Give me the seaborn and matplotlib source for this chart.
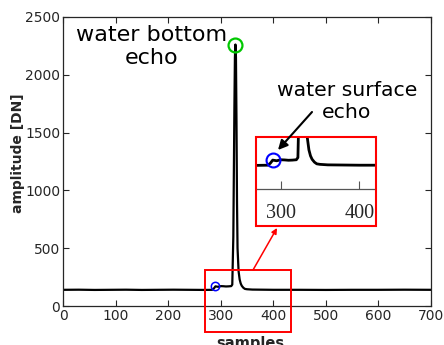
import matplotlib
matplotlib.use("Agg")
import matplotlib.pyplot as plt
import seaborn as sns
import pandas as pd
from matplotlib.patches import Rectangle, FancyArrowPatch

# ---- data ----
samples = [0, 30, 60, 90, 120, 150, 180, 210, 240, 270, 284, 287, 290, 295, 300,
           305, 310, 315, 320, 322, 324, 326, 327, 328, 329, 330, 331, 332, 334,
           336, 338, 340, 343, 346, 350, 360, 380, 400, 450, 500, 550, 600, 650, 700]
amplitude = [140, 141, 139, 140, 141, 139, 140, 141, 140, 139, 140, 152, 170, 166, 172,
             171, 169, 170, 172, 185, 600, 1700, 2150, 2262, 2150, 1600, 900, 500, 300,
             230, 195, 175, 158, 148, 145, 142, 141, 140, 140, 139, 140, 140, 141, 140]
surface_pt = (290, 173)
bottom_pt = (328, 2262)
xticks_main = [0, 100, 200, 300, 400, 500, 600, 700]
yticks_main = [0, 500, 1000, 1500, 2000, 2500]
xticks_inset = [300, 400]

df = pd.DataFrame({"samples": samples, "amplitude": amplitude})

sns.set_theme(style="ticks")
plt.rcParams["font.family"] = ["DejaVu Sans"]

W, H = 444, 345
fig = plt.figure(figsize=(W / 100, H / 100), dpi=100)

def fx(px):
    return px / W

def fy(py):
    return 1 - py / H

# main axes
ax = fig.add_axes([fx(63), fy(306), fx(431) - fx(63), fy(17) - fy(306)])
sns.lineplot(data=df, x="samples", y="amplitude", ax=ax, color="black", lw=1.6)
ax.plot([surface_pt[0]], [surface_pt[1]], "o", mfc="none", mec="blue", ms=6, mew=1.1)
ax.plot([bottom_pt[0]], [bottom_pt[1]], "o", mfc="none", mec="#00c800", ms=10, mew=1.6)
ax.set_xlim(0, 700)
ax.set_ylim(0, 2500)
ax.set_xticks(xticks_main)
ax.set_yticks(yticks_main)
ax.tick_params(direction="in", top=True, right=True, length=4, width=0.8,
               labelsize=10, colors="#262626", pad=2)
for s in ax.spines.values():
    s.set_color("#262626")
    s.set_linewidth(0.9)
ax.set_xlabel("samples", fontsize=10.5, fontweight="bold")
ax.set_ylabel("amplitude [DN]", fontsize=10, fontweight="bold")
ax.xaxis.set_label_coords(0.51, -0.105)
ax.yaxis.set_label_coords(-0.104, 0.53)

# red zoom box on main axes
ax.add_patch(Rectangle((270, -225), 164, 536, fill=False, ec="red", lw=1.4,
                       clip_on=False, zorder=5))

# inset axes
axi = fig.add_axes([fx(257), fy(189), fx(375) - fx(257), fy(138) - fy(189)])
sns.lineplot(data=df, x="samples", y="amplitude", ax=axi, color="black", lw=2.0)
axi.plot([surface_pt[0]], [surface_pt[1]], "o", mfc="none", mec="blue", ms=10, mew=1.5)
axi.set_xlim(270, 420)
axi.set_ylim(0, 300)
axi.set_xticks(xticks_inset)
axi.set_yticks([])
axi.set_xlabel("")
axi.set_ylabel("")
axi.patch.set_alpha(0)
for k in ["left", "right", "top"]:
    axi.spines[k].set_visible(False)
axi.spines["bottom"].set_color("#555555")
axi.spines["bottom"].set_linewidth(0.9)
axi.tick_params(axis="x", direction="in", length=6, width=0.8, colors="#555555",
                labelcolor="#262626", labelsize=14.5, pad=11)
for lab in axi.get_xticklabels():
    lab.set_family("Liberation Serif")

fig.add_artist(Rectangle((fx(256), fy(226)), fx(376) - fx(256), fy(137) - fy(226),
                         fill=False, ec="red", lw=1.5, transform=fig.transFigure))

# annotations
fig.text(fx(152), fy(46.5), "water bottom\necho", ha="center", va="center",
         fontsize=16, color="black", multialignment="center")
fig.text(fx(347), fy(101), "water surface\necho", ha="center", va="center",
         fontsize=14.7, color="black", multialignment="center")

fig.add_artist(FancyArrowPatch(
    (fx(312), fy(112)), (fx(278), fy(150)), transform=fig.transFigure,
    arrowstyle="-|>", mutation_scale=14, lw=1.5, color="black",
    shrinkA=0, shrinkB=0))
fig.add_artist(FancyArrowPatch(
    (fx(253), fy(270)), (fx(277), fy(228)), transform=fig.transFigure,
    arrowstyle="-|>", mutation_scale=8, lw=1.1, color="red",
    shrinkA=0, shrinkB=0))

fig.savefig("out.png", dpi=100)
